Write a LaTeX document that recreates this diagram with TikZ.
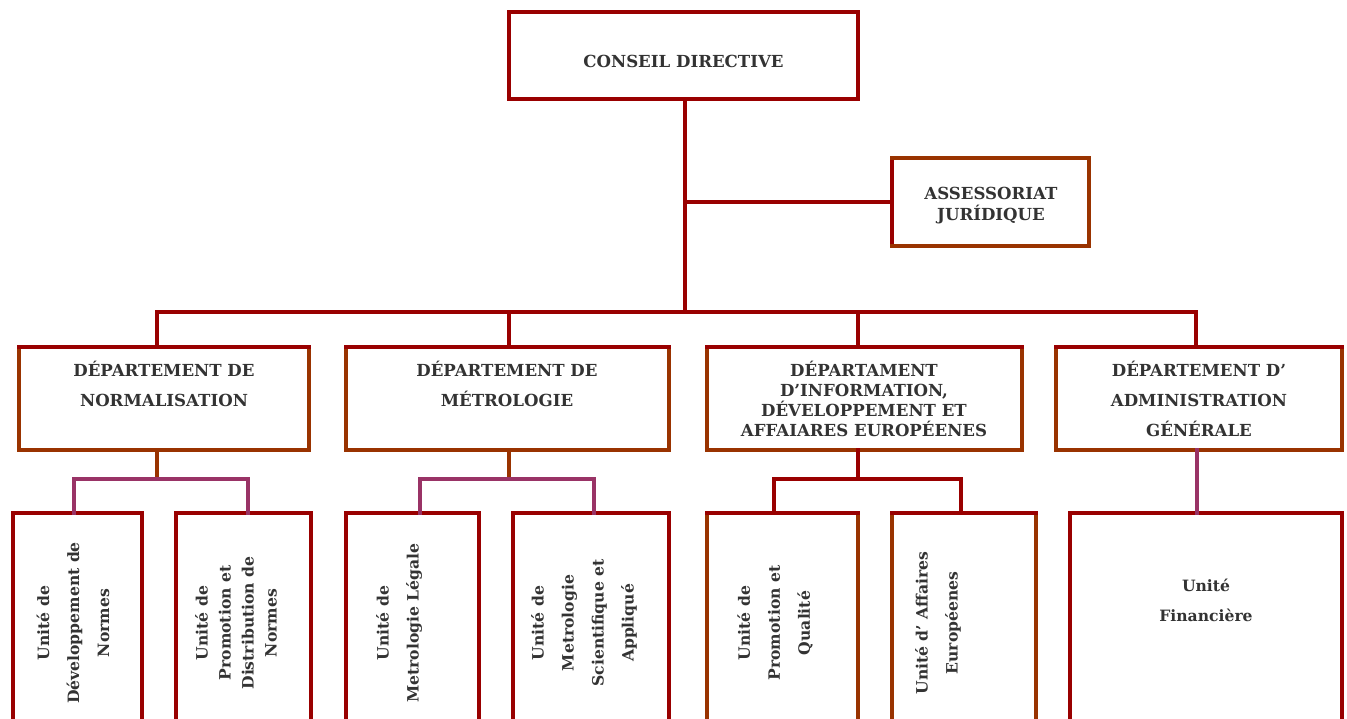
\documentclass[tikz,border=0pt]{standalone}
\usepackage{fontspec}
\setmainfont{DejaVu Serif}
\definecolor{dred}{HTML}{990000}
\definecolor{brn}{HTML}{993300}
\definecolor{pur}{HTML}{993366}
\definecolor{txt}{HTML}{333333}
\newcommand{\boxsides}[5]{% name, left, right, bottom, top
  \draw[#2] (#1.north west) -- (#1.south west);
  \draw[#3] (#1.north east) -- (#1.south east);
  \draw[#4] (#1.south west) -- (#1.south east);
  \draw[#5] (#1.north west) -- (#1.north east);}
\begin{document}
\begin{tikzpicture}[x=1pt,y=-1pt,line width=4pt,line cap=rect,
  box/.style={rectangle,inner sep=0pt,outer sep=0pt,draw=none},
  hd/.style={text=txt,font=\bfseries\fontsize{16.6}{30}\selectfont,align=center,inner sep=0pt},
  ut/.style={text=txt,font=\bfseries\fontsize{15.6}{30}\selectfont,align=center,rotate=90,inner sep=0pt}]
\clip (0,0) rectangle (1347,719);
\fill[white] (0,0) rectangle (1347,719);
% boxes
\node[box,minimum width=349pt,minimum height=87pt] (cd) at (683.5,55.5) {};
\node[box,minimum width=197pt,minimum height=88pt] (aj) at (990.5,202) {};
\node[box,minimum width=290pt,minimum height=103pt] (dn) at (164,398.5) {};
\node[box,minimum width=323pt,minimum height=103pt] (dm) at (507.5,398.5) {};
\node[box,minimum width=315pt,minimum height=103pt] (di) at (864.5,398.5) {};
\node[box,minimum width=286pt,minimum height=103pt] (da) at (1199,398.5) {};
\node[box,minimum width=129pt,minimum height=247pt] (u1) at (77.5,636.5) {};
\node[box,minimum width=135pt,minimum height=247pt] (u2) at (243.5,636.5) {};
\node[box,minimum width=133pt,minimum height=247pt] (u3) at (412.5,636.5) {};
\node[box,minimum width=156pt,minimum height=247pt] (u4) at (591,636.5) {};
\node[box,minimum width=151pt,minimum height=247pt] (u5) at (782.5,636.5) {};
\node[box,minimum width=144pt,minimum height=247pt] (u6) at (964,636.5) {};
\node[box,minimum width=272pt,minimum height=247pt] (u7) at (1206,636.5) {};
% borders
\boxsides{cd}{dred}{dred}{dred}{dred}
\boxsides{aj}{dred}{brn}{brn}{brn}
\boxsides{dn}{brn}{brn}{brn}{dred}
\boxsides{dm}{brn}{brn}{brn}{dred}
\boxsides{di}{brn}{brn}{brn}{dred}
\boxsides{da}{brn}{brn}{brn}{dred}
\boxsides{u1}{dred}{dred}{dred}{dred}
\boxsides{u2}{dred}{dred}{dred}{dred}
\boxsides{u3}{dred}{dred}{dred}{dred}
\boxsides{u4}{dred}{dred}{dred}{dred}
\boxsides{u5}{brn}{brn}{brn}{dred}
\boxsides{u6}{brn}{brn}{brn}{dred}
\boxsides{u7}{dred}{dred}{dred}{dred}
% connectors
\coordinate (trunk) at (685,312);
\coordinate (busL) at (157,312);
\coordinate (busR) at (1196,312);
\draw[dred] (cd.south -| trunk) -- (trunk);
\draw[dred] (trunk |- aj.west) -- (aj.west);
\draw[dred] (busL) -- (busR);
\draw[dred] (busL) -- (busL |- dn.north);
\draw[dred] (509,312) coordinate (bm) -- (bm |- dm.north);
\draw[dred] (858,312) coordinate (bi) -- (bi |- di.north);
\draw[dred] (busR) -- (busR |- da.north);
% normalisation
\coordinate (jn) at (157,479);
\draw[brn] (jn |- dn.south) -- (jn);
\draw[pur] (74,513) coordinate (n1) -- (74,479) -- (248,479) -- (248,513) coordinate (n2);
% metrologie
\coordinate (jm) at (509,479);
\draw[brn] (jm |- dm.south) -- (jm);
\draw[pur] (420,513) -- (420,479) -- (594,479) -- (594,513);
% information
\coordinate (ji) at (858,479);
\draw[dred] (ji |- di.south) -- (ji);
\draw[dred] (774,513) -- (774,479) -- (961,479) -- (961,513);
% administration
\draw[pur] (1197,450) -- (1197,513);
% texts
\node[hd] (tcd) at (683.5,61) {CONSEIL DIRECTIVE};
\node[hd,font=\bfseries\fontsize{16.6}{21}\selectfont] (taj) at (991,205.5) {ASSESSORIAT\\JURÍDIQUE};
\node[hd] (tdn) at (164,384) {DÉPARTEMENT DE\\NORMALISATION};
\node[hd] (tdm) at (507,384) {DÉPARTEMENT DE\\MÉTROLOGIE};
\node[hd,font=\bfseries\fontsize{16.6}{20}\selectfont] (tdi) at (864,399) {DÉPARTAMENT\\D’INFORMATION,\\DÉVELOPPEMENT ET\\AFFAIARES EUROPÉENES};
\node[hd] (tda) at (1199,399) {DÉPARTEMENT D’\\ADMINISTRATION\\GÉNÉRALE};
\node[ut] (tu1) at (73,623) {Unité de\\Développement de\\Normes};
\node[ut,font=\bfseries\fontsize{15.6}{23}\selectfont] (tu2) at (236,623) {Unité de\\Promotion et\\Distribution de\\Normes};
\node[ut] (tu3) at (399,623) {Unité de\\Metrologie Légale};
\node[ut] (tu4) at (584,623) {Unité de\\Metrologie\\Scientifique et\\Appliqué};
\node[ut] (tu5) at (775,623) {Unité de\\Promotion et\\Qualité};
\node[ut] (tu6) at (938,623) {Unité d’ Affaires\\Européenes};
\node[ut,rotate=-90] (tu7) at (1206,600) {Unité\\Financière};
\end{tikzpicture}
\end{document}
